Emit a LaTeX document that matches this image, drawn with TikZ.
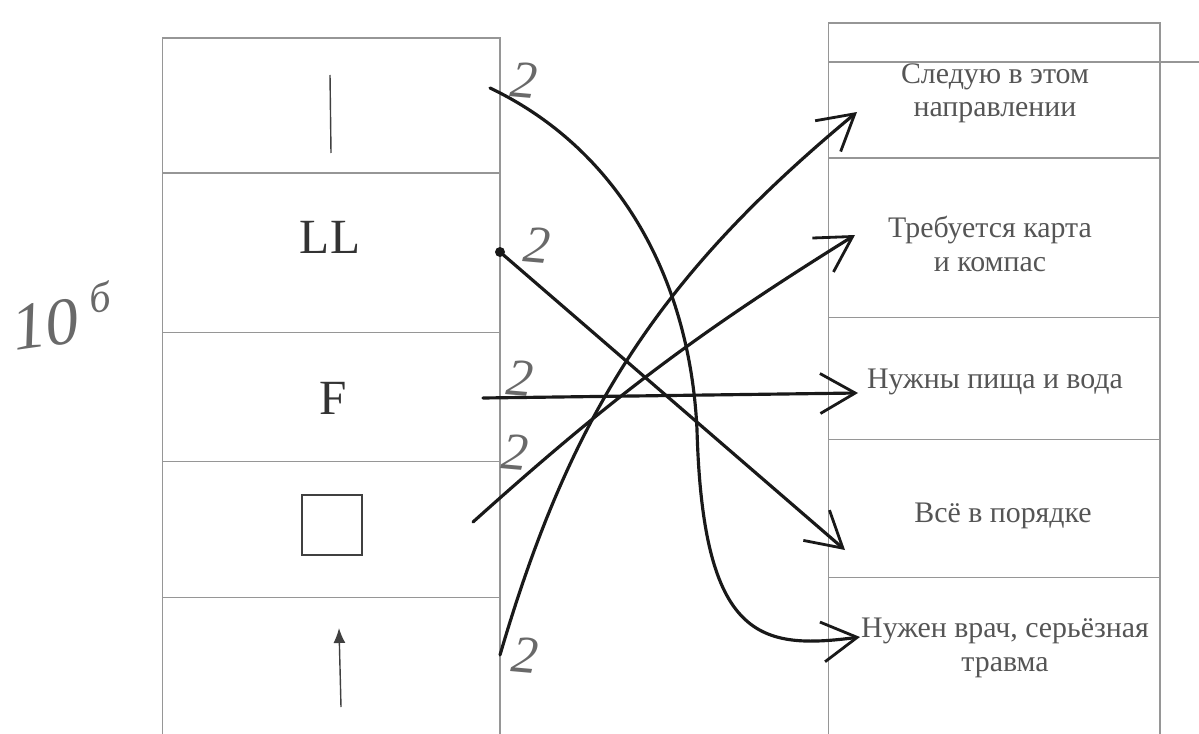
\documentclass[tikz,border=0pt]{standalone}
\usepackage{fontspec}
\setmainfont{Liberation Serif}
\usepackage{tikz}
\usetikzlibrary{arrows.meta, positioning, calc}
\definecolor{tblgray}{RGB}{150,150,150}
\definecolor{txtgray}{RGB}{85,85,85}
\definecolor{pencil}{RGB}{105,105,105}
\definecolor{ink}{RGB}{25,25,25}
\tikzset{
  lcell/.style={rectangle,draw=tblgray,line width=0.6pt,minimum width=6.76cm,inner sep=0pt,outer sep=0pt},
  rcell/.style={rectangle,draw=tblgray,line width=0.6pt,minimum width=6.64cm,inner sep=0pt,outer sep=0pt},
  answer/.style={align=center,text=txtgray,font=\fontsize{17}{19}\selectfont},
  symb/.style={text=black!80,font=\fontsize{28}{28}\selectfont},
  grade/.style={text=pencil,font=\fontsize{30}{30}\selectfont\itshape},
  hand/.style={-{Straight Barb[length=0.7cm,width=0.8cm,line width=1.6pt]},line width=1.8pt,color=ink,line cap=round},
  tline/.style={draw=tblgray,line width=0.6pt}
}

\begin{document}
\begin{tikzpicture}[x=0.02cm,y=-0.02cm]
  \useasboundingbox (0,0) rectangle (1199,733);

  % left column: signs
  \node[lcell,minimum height=2.70cm] (L1) at (331,105.5) {};
  \node[lcell,minimum height=3.20cm,below=0pt of L1] (L2) {};
  \node[lcell,minimum height=2.58cm,below=0pt of L2] (L3) {};
  \node[lcell,minimum height=2.72cm,below=0pt of L3] (L4) {};
  \node[lcell,minimum height=3.44cm,below=0pt of L4] (L5) {};

  \draw[line width=0.8pt,black!75] (330,75) -- (331,153);
  \node[symb] (sLL) at (330,237) {LL};
  \node[symb] (sF) at (333,398) {F};
  \node[draw=black!75,line width=0.8pt,minimum size=1.2cm,inner sep=0pt] (sq) at (332,525) {};
  \draw[black!75,line width=0.8pt,-{Latex[length=3mm,width=2.4mm]}] (341,707) -- (339,628);

  % right column: meanings
  \node[rcell,minimum height=0.78cm] (R0) at (994,42.5) {};
  \node[rcell,minimum height=1.92cm,below=0pt of R0] (R1) {};
  \node[rcell,minimum height=3.20cm,below=0pt of R1] (R2) {};
  \node[rcell,minimum height=2.44cm,below=0pt of R2] (R3) {};
  \node[rcell,minimum height=2.76cm,below=0pt of R3] (R4) {};
  \node[rcell,minimum height=3.84cm,below=0pt of R4] (R5) {};
  \draw[tline] (R0.south east) -- ++(39,0);

  \node[answer] (t1) at (995,93) {Следую в этом\\направлении};
  \node[answer] (t2) at (990,244) {Требуется карта\\и компас};
  \node[answer] (t3) at (995,382) {Нужны пища и вода};
  \node[answer] (t4) at (1003,516) {Всё в порядке};
  \node[answer] (t5) at (1005,648) {Нужен врач, серьёзная\\травма};

  % handwritten matching
  \coordinate (s1) at (490,88);
  \coordinate (s2) at (500,252);
  \coordinate (s3) at (483,398);
  \coordinate (s4) at (473,522);
  \coordinate (s5) at (500,655);
  \coordinate (e1) at (857,112);
  \coordinate (e2) at (855,235);
  \coordinate (e3) at (858,393);
  \coordinate (e4) at (845,550);
  \coordinate (e5) at (860,637);

  \draw[hand] (s1) .. controls (620,150) and (690,280) .. (697,430)
    .. controls (703,640) and (760,650) .. (e5);
  \fill[ink] (s2) circle (0.1cm);
  \draw[hand] (s2) -- (e4);
  \draw[hand] (s3) -- (e3);
  \draw[hand] (s4) to[bend left=5] (e2);
  \draw[hand] (s5) to[bend left=17] (e1);

  \node[grade,rotate=-5] (g1) at (524,80) {2};
  \node[grade,rotate=-5] (g2) at (537,245) {2};
  \node[grade,rotate=-5] (g3) at (520,378) {2};
  \node[grade,rotate=-5] (g4) at (515,452) {2};
  \node[grade,rotate=-5] (g5) at (525,655) {2};

  \node[grade,rotate=8,inner sep=1pt,font=\fontsize{38}{38}\selectfont\itshape] (score) at (62,316)
    {10\hspace{0.2em}\raisebox{0.4em}{\fontsize{24}{24}\selectfont б}};
\end{tikzpicture}
\end{document}
